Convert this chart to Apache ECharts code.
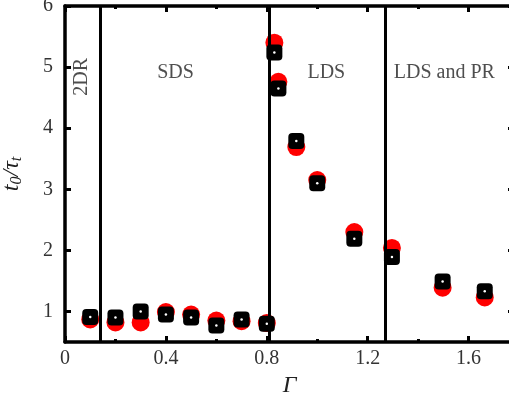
<!DOCTYPE html>
<html>
<head>
<meta charset="utf-8">
<script src="https://cdn.jsdelivr.net/npm/echarts@6/dist/echarts.min.js"></script>
<style>
  html, body { margin: 0; padding: 0; background: #fff; }
  #chart { width: 509px; height: 398px; }
</style>
</head>
<body>
<div id="chart"></div>
<script>
// Gamma values of the measurements
const gammaValues = [0.10, 0.20, 0.30, 0.40, 0.50, 0.60, 0.70, 0.80, 0.83, 0.846, 0.917, 1.00, 1.147, 1.296, 1.497, 1.664];
// red circles
const redValues = [0.87, 0.82, 0.82, 0.99, 0.95, 0.85, 0.84, 0.81, 5.40, 4.76, 3.69, 3.15, 2.30, 2.04, 1.39, 1.23];
// black squares
const blackValues = [0.91, 0.90, 1.00, 0.95, 0.90, 0.77, 0.87, 0.80, 5.24, 4.65, 3.79, 3.10, 2.19, 1.89, 1.49, 1.33];
// region borders and names
const borders = [0.14, 0.81, 1.27];
const regionNames = ['2DR', 'SDS', 'LDS', 'LDS and PR'];
const regionX = [0.067, 0.438, 1.036, 1.504];
const regionY = [4.84, 4.9, 4.9, 4.9];
const xLabels = [0, 0.4, 0.8, 1.2, 1.6];
const yTicks = [1, 2, 3, 4, 5, 6];

const font = 'Liberation Serif';
const pairs = (xs, ys) => xs.map((x, i) => [x, ys[i]]);

const chart = echarts.init(document.getElementById('chart'));

const xAxisBase = {
  type: 'value',
  min: 0,
  max: 1.78,
  interval: 0.4,
  splitLine: { show: false },
  axisLine: { show: true, onZero: false, lineStyle: { color: '#000', width: 3.5 } },
  axisTick: { show: true, inside: true, length: 6, lineStyle: { color: '#000', width: 3 } },
  minorTick: { show: true, splitNumber: 2, length: 3, lineStyle: { color: '#000', width: 3 } },
};
const yAxisBase = {
  type: 'value',
  min: 0.5,
  max: 6,
  splitLine: { show: false },
  axisLine: { show: true, onZero: false, lineStyle: { color: '#000', width: 3.5 } },
  axisTick: { show: true, inside: true, length: 6, customValues: yTicks, lineStyle: { color: '#000', width: 3 } },
};

chart.setOption({
  animation: false,
  grid: { left: 65, top: 6, right: -5, bottom: 56, outerBoundsMode: 'none', containLabel: false },
  xAxis: [
    {
      ...xAxisBase,
      position: 'bottom',
      name: 'Γ',
      nameLocation: 'middle',
      nameGap: 30,
      nameTextStyle: { fontFamily: font, fontStyle: 'italic', fontSize: 24, color: '#222' },
      axisLabel: {
        margin: 7,
        fontFamily: font,
        fontSize: 20,
        color: '#333',
        customValues: xLabels,
        formatter: v => (v === 0 ? '0' : String(+v.toFixed(1))),
      },
    },
    { ...xAxisBase, position: 'top', axisLabel: { show: false } },
  ],
  yAxis: [
    {
      ...yAxisBase,
      position: 'left',
      name: 't{s|0}/τ{s|t}',
      nameLocation: 'middle',
      nameGap: 40,
      nameRotate: 90,
      nameTextStyle: {
        fontFamily: font, fontStyle: 'italic', fontSize: 24, color: '#222',
        rich: { s: { fontFamily: font, fontStyle: 'italic', fontSize: 16, verticalAlign: 'bottom', padding: [10, 0, 0, 0] } },
      },
      axisLabel: { margin: 12, fontFamily: font, fontSize: 20, color: '#333', customValues: yTicks },
    },
    { ...yAxisBase, position: 'right', axisLabel: { show: false } },
  ],
  series: [
    {
      name: 'red',
      type: 'scatter',
      data: pairs(gammaValues, redValues),
      symbol: 'circle',
      symbolSize: 18,
      itemStyle: { color: '#ff0000', opacity: 1 },
      z: 2,
      markLine: {
        silent: true,
        symbol: 'none',
        label: { show: false },
        lineStyle: { color: '#000', width: 3, type: 'solid' },
        data: borders.map(b => ({ xAxis: b })),
      },
    },
    {
      name: 'black',
      type: 'scatter',
      data: pairs(gammaValues, blackValues),
      symbol: 'roundRect',
      symbolSize: 16,
      itemStyle: { color: '#000', opacity: 1 },
      z: 3,
    },
    {
      name: 'dot',
      type: 'scatter',
      data: pairs(gammaValues, blackValues),
      symbol: 'circle',
      symbolSize: 2.5,
      itemStyle: { color: '#fff', opacity: 1 },
      z: 4,
    },
    {
      name: 'regions',
      type: 'scatter',
      symbolSize: 0,
      silent: true,
      data: regionNames.map((n, i) => ({
        value: [regionX[i], regionY[i]],
        label: {
          show: true,
          position: 'inside',
          formatter: n,
          rotate: i === 0 ? 90 : 0,
          fontFamily: font,
          fontSize: 20,
          color: '#222',
        },
      })),
    },
  ],
});
</script>
</body>
</html>
